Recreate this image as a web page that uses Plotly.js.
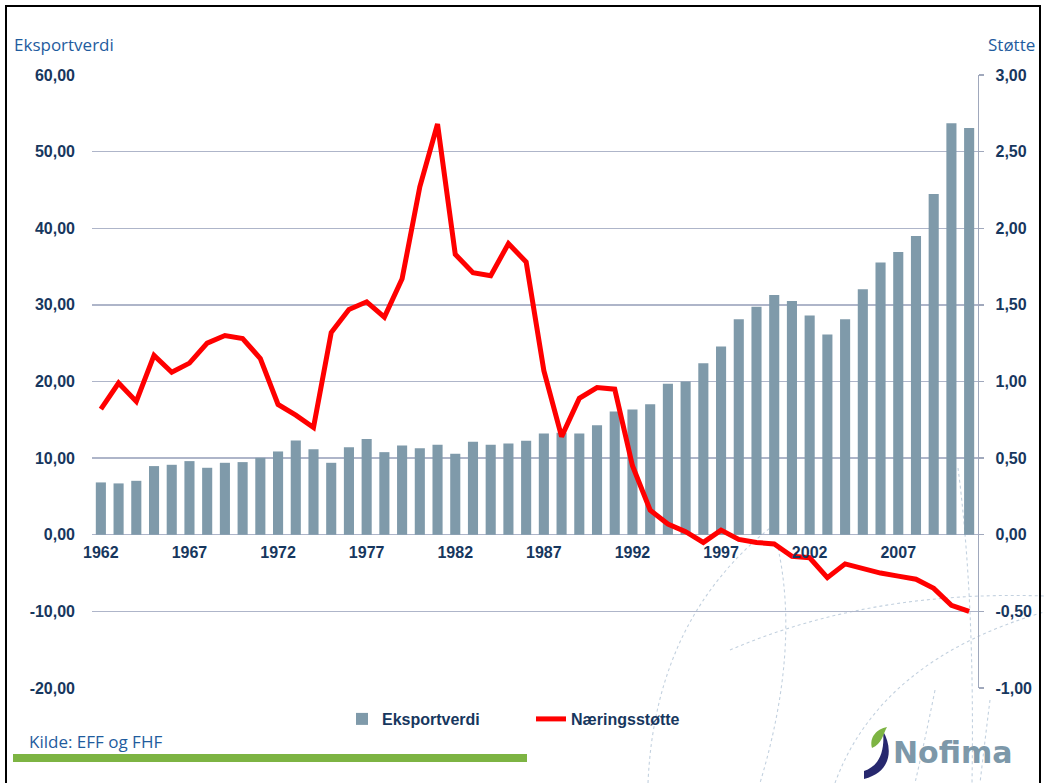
<!DOCTYPE html>
<html>
<head>
<meta charset="utf-8">
<script src="https://cdn.plot.ly/plotly-3.0.1.min.js"></script>
<style>html,body{margin:0;padding:0;background:#fff;}#chart{width:1044px;height:783px;}</style>
</head>
<body>
<div id="chart"></div>
<script>
const years = [1962,1963,1964,1965,1966,1967,1968,1969,1970,1971,1972,1973,1974,1975,1976,1977,1978,1979,1980,1981,1982,1983,1984,1985,1986,1987,1988,1989,1990,1991,1992,1993,1994,1995,1996,1997,1998,1999,2000,2001,2002,2003,2004,2005,2006,2007,2008,2009,2010,2011];
const eksportverdi = [6.83,6.70,7.04,8.96,9.13,9.61,8.74,9.39,9.48,10.04,10.87,12.30,11.17,9.39,11.43,12.48,10.78,11.65,11.28,11.74,10.57,12.13,11.74,11.91,12.26,13.22,13.30,13.22,14.30,16.09,16.35,17.04,19.70,20.00,22.39,24.56,28.13,29.74,31.30,30.52,28.61,26.13,28.13,32.04,35.52,36.91,39.00,44.48,53.69,53.09];
const naeringsstotte = [0.82,0.99,0.87,1.17,1.06,1.12,1.25,1.30,1.28,1.15,0.85,0.78,0.70,1.32,1.47,1.52,1.42,1.67,2.27,2.68,1.83,1.71,1.69,1.90,1.78,1.07,0.64,0.89,0.96,0.95,0.45,0.16,0.07,0.02,-0.05,0.03,-0.03,-0.05,-0.06,-0.14,-0.15,-0.28,-0.19,-0.22,-0.25,-0.27,-0.29,-0.35,-0.46,-0.50];
const xTickYears = [1962,1967,1972,1977,1982,1987,1992,1997,2002,2007];
const leftTickVals = [-20,-10,0,10,20,30,40,50,60];
const leftTickText = ["-20,00","-10,00","0,00","10,00","20,00","30,00","40,00","50,00","60,00"];
const rightTickVals = [-1,-0.5,0,0.5,1,1.5,2,2.5,3];
const rightTickText = ["-1,00","-0,50","0,00","0,50","1,00","1,50","2,00","2,50","3,00"];

const W = 1044, H = 783;
const M = {l: 92, r: 66, t: 75, b: 95};
const PW = W - M.l - M.r, PH = H - M.t - M.b;
const px = x => (x - M.l) / PW;
const py = y => (H - M.b - y) / PH;
function pathFrom(cmds) {
  return cmds.map(c => {
    if (c[0] === 'Z') return 'Z';
    let s = c[0];
    for (let i = 1; i < c.length; i += 2) s += (i > 1 ? ' ' : '') + px(c[i]).toFixed(5) + ',' + py(c[i+1]).toFixed(5);
    return s;
  }).join(' ');
}

const tickColor = '#17375E';
const titleColor = '#1F5C9E';
const gridColor = '#AEB5C9';
const comic = '"Comic Sans MS", "Open Sans", sans-serif';

const traces = [
  {
    type: 'bar', name: 'Eksportverdi', x: years, y: eksportverdi,
    marker: {color: '#7F9AAA'}, yaxis: 'y', xaxis: 'x'
  },
  {
    type: 'scatter', mode: 'lines', name: 'Næringsstøtte', x: years, y: naeringsstotte,
    line: {color: '#FF0000', width: 5}, yaxis: 'y2', xaxis: 'x'
  }
];

const dashStyle = {color: '#C3D1DF', width: 1.1, dash: 'dot'};
const arcs = [
  [['M',648,783],['Q',655,620,770,528]],
  [['M',778,548],['Q',800,650,760,783]],
  [['M',958,468],['Q',975,600,972,783]],
  [['M',730,650],['Q',870,590,1044,596]],
  [['M',835,783],['Q',880,660,1044,612]],
  [['M',935,690],['Q',925,740,915,783]],
  [['M',990,700],['Q',985,740,980,783]]
];
const shapes = arcs.map(a => ({type:'path', xref:'paper', yref:'paper', path: pathFrom(a), line: dashStyle, layer:'below'}));

shapes.push({type:'rect', xref:'paper', yref:'paper', x0: px(6), x1: px(1040), y0: py(800), y1: py(6), line:{color:'#000', width:2}, fillcolor:'rgba(0,0,0,0)'});
shapes.push({type:'rect', xref:'paper', yref:'paper', x0: px(13), x1: px(527), y0: py(762), y1: py(754), line:{width:0}, fillcolor:'#7DB443'});
shapes.push({type:'path', xref:'paper', yref:'paper', line:{width:0}, fillcolor:'#27286E',
  path: pathFrom([['M',883,731],['C',893,748,892,772,864,779],['L',864,771],['C',879,766,885,752,883,731],['Z']])});
shapes.push({type:'path', xref:'paper', yref:'paper', line:{width:0}, fillcolor:'#7DB443',
  path: pathFrom([['M',872,748],['C',869,737,877,729,887,727],['C',883,734,882,744,872,748],['Z']])});

const annotations = [
  {xref:'paper', yref:'paper', x: px(12), y: py(45), xanchor:'left', yanchor:'middle', showarrow:false, text:'Eksportverdi', font:{family: comic, size:17, color:titleColor}},
  {xref:'paper', yref:'paper', x: px(1037), y: py(45), xanchor:'right', yanchor:'middle', showarrow:false, text:'Støtte', font:{family: comic, size:17, color:titleColor}},
  {xref:'paper', yref:'paper', x: px(27), y: py(741), xanchor:'left', yanchor:'middle', showarrow:false, text:'Kilde: EFF og FHF', font:{family: comic, size:17, color:titleColor}},
  {xref:'paper', yref:'paper', x: px(891), y: py(753), xanchor:'left', yanchor:'middle', showarrow:false, text:'Nofima', font:{family: '"DejaVu Sans", sans-serif', size:30, weight:'bold', color:'#7D98A9'}}
];

const layout = {
  width: W, height: H,
  margin: M,
  paper_bgcolor: '#fff', plot_bgcolor: '#fff',
  font: {family: '"Liberation Sans", Arial, sans-serif', color: tickColor},
  showlegend: true,
  legend: {orientation:'h', x: px(342), y: py(702), xanchor:'left', yanchor:'top',
    font:{size:16, weight:'bold', color: tickColor}, entrywidth: 144, entrywidthmode:'pixels', bgcolor:'rgba(0,0,0,0)'},
  bargap: 0.43,
  xaxis: {
    type:'linear', range:[1961.5, 2011.5], tickvals: xTickYears, ticktext: xTickYears.map(String),
    showgrid:false, zeroline:false, showline:false, ticks:'',
    anchor:'free', position: py(535), ticklabelstandoff: 6,
    tickfont:{size:16, weight:'bold', color: tickColor}
  },
  yaxis: {
    range:[-20, 60], tickvals: leftTickVals, ticktext: leftTickText,
    showgrid:true, gridcolor: gridColor, gridwidth:1.3, zeroline:false, showline:false, ticks:'',
    ticklabelstandoff: 16, tickfont:{size:16, weight:'bold', color: tickColor}
  },
  yaxis2: {
    range:[-1, 3], tickvals: rightTickVals, ticktext: rightTickText, overlaying:'y', side:'right',
    showgrid:false, zeroline:false, showline:true, linecolor:'#A0A8BC', linewidth:1.3,
    ticks:'outside', ticklen:5, tickcolor:'#A0A8BC', tickwidth:1.3, ticklabelstandoff: 8,
    tickfont:{size:16, weight:'bold', color: tickColor}
  },
  shapes: shapes,
  annotations: annotations
};

Plotly.newPlot('chart', traces, layout, {displayModeBar:false, staticPlot:true});
</script>
</body>
</html>
